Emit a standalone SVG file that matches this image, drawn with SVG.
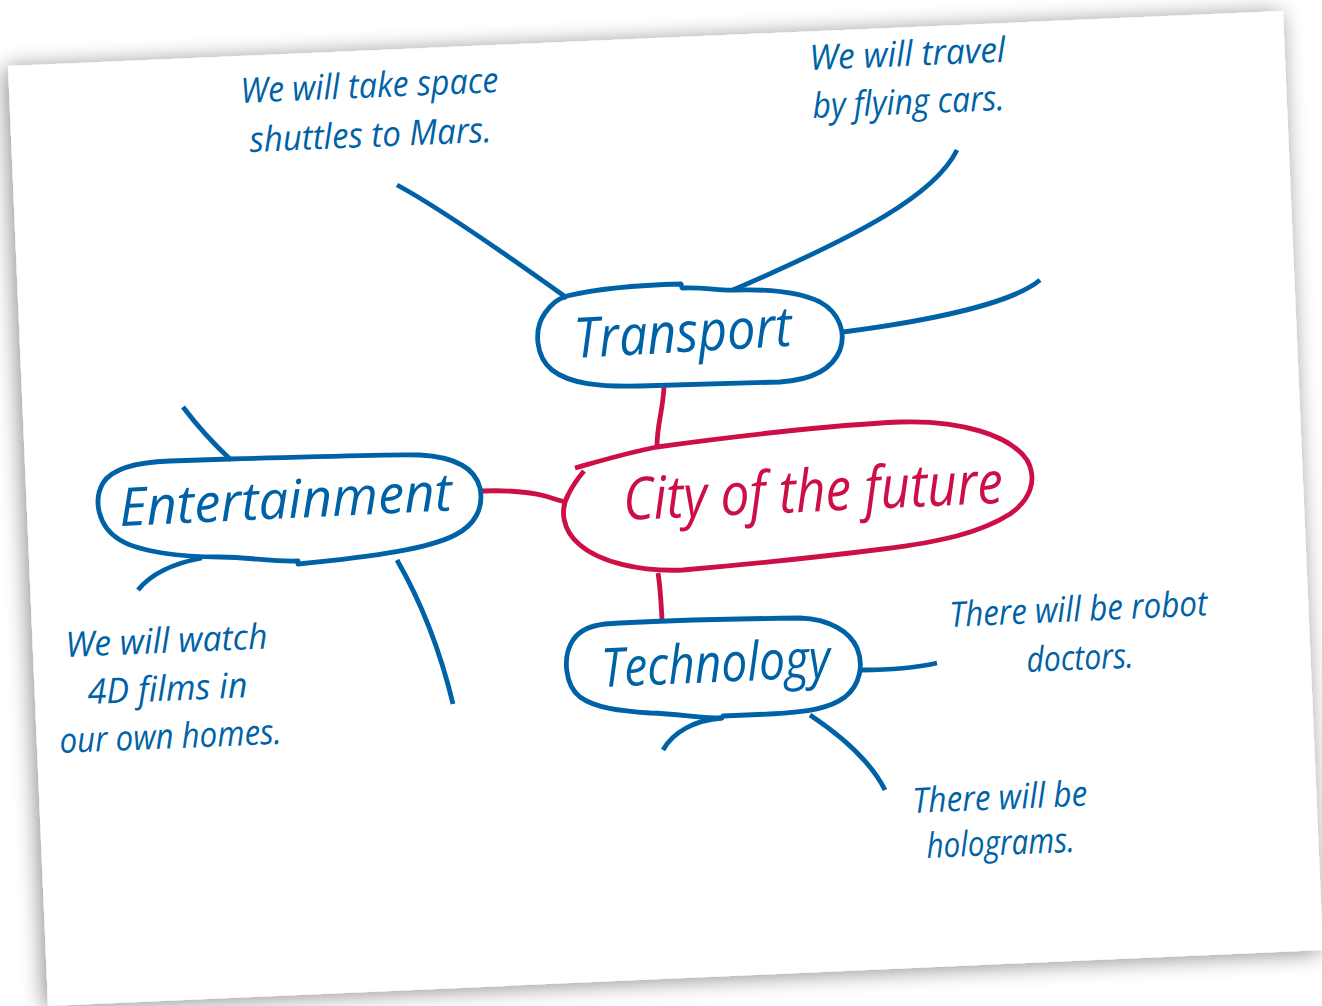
<svg xmlns="http://www.w3.org/2000/svg" width="1322" height="1006" viewBox="0 0 1322 1006">
<defs>
<filter id="shadow" x="-10%" y="-10%" width="120%" height="120%">
<feGaussianBlur in="SourceAlpha" stdDeviation="11"/>
<feOffset dx="-3" dy="2" result="b"/>
<feComponentTransfer><feFuncA type="linear" slope="0.45"/></feComponentTransfer>
<feMerge><feMergeNode/><feMergeNode in="SourceGraphic"/></feMerge>
</filter>
<style>
.b{fill:none;stroke:#0062a6;stroke-width:4.8;stroke-linejoin:round}
.r{fill:none;stroke:#cc0f46;stroke-width:4.8;stroke-linejoin:round}
.t{font-family:"Open Sans","Noto Sans",sans-serif;font-style:italic;fill:#0062a6}
.leaf{font-size:35px}
.main{font-size:56px}
.red{fill:#cc0f46}
</style>
</defs>
<rect x="0" y="0" width="1322" height="1006" fill="#ffffff"/>
<polygon id="paper" points="8,66 1283,11 1323,950 48,1006" fill="#ffffff" filter="url(#shadow)"/>

<g id="connectors">
<path class="b" d="M397,185 Q444,210 567,298"/>
<path class="b" d="M957,150 C935,195 860,235 733,290"/>
<path class="b" d="M843,332 C920,322 1010,305 1040,280"/>
<path class="r" d="M664,387 C663,410 657,425 657,446"/>
<path class="r" d="M482,491 C510,490 530,492 545,496 C555,499 560,501 566,502"/>
<path class="r" d="M658,573 C660,585 661,600 662,620"/>
<path class="b" d="M183,407 Q205,436 231,460"/>
<path class="b" d="M202,558 C170,564 150,575 138,590"/>
<path class="b" d="M397,560 C420,600 440,650 453,704"/>
<path class="b" d="M862,670 C890,670 915,668 937,663"/>
<path class="b" d="M722,718 C695,720 673,732 663,750"/>
<path class="b" d="M810,715 C840,735 870,760 885,790"/>
</g>

<g id="node-transport">
<path class="b" d="M567,296 C600,288 640,285 681,284 L682,288 C705,287 720,291 735,290 C770,289 800,292 820,302 C840,313 846,333 840,350 C832,370 810,380 780,382 L640,386 C600,387 570,384 552,370 C536,357 533,330 545,313 C552,303 558,299 567,296 Z"/>
<text class="t main" x="575" y="358" transform="rotate(-3.2 575 358)" textLength="218" lengthAdjust="spacingAndGlyphs">Transport</text>
</g>

<g id="node-entertainment">
<path class="b" d="M230,459 C320,457 390,454 420,455 C455,457 475,468 480,488 C484,508 475,525 455,535 C430,548 380,556 298,564 L298,561 C270,562 250,557 220,557 C180,557 140,552 120,540 C98,527 93,500 103,483 C113,467 140,462 170,461 Z"/>
<text class="t main" x="120" y="526" transform="rotate(-2.7 120 526)" textLength="333" lengthAdjust="spacingAndGlyphs" style="font-size:53px">Entertainment</text>
</g>

<g id="node-city">
<path class="r" d="M575,468 C600,461 630,452 657,447 C720,438 830,425 900,422 C960,420 1010,435 1027,460 C1038,480 1030,500 1010,514 C980,533 940,542 883,549 C820,557 740,565 683,570 C640,572 600,562 580,545 C562,530 560,510 568,495 C573,485 578,478 584,471"/>
<text class="t main red" x="624" y="520" transform="rotate(-2.6 624 520)" textLength="380" lengthAdjust="spacingAndGlyphs" style="font-size:59px">City of the future</text>
</g>

<g id="node-technology">
<path class="b" d="M573,640 C580,630 590,626 605,624 C650,621 720,619 800,618 C830,619 850,632 857,648 C864,665 860,685 845,697 C830,708 810,712 770,714 L723,716 L722,718 C700,718 680,714 650,713 C620,711 595,708 580,697 C565,685 562,657 573,640 Z"/>
<text class="t main" x="602" y="687" transform="rotate(-2.5 602 687)" textLength="229" lengthAdjust="spacingAndGlyphs" style="font-size:54px">Technology</text>
</g>

<g id="leaf-mars">
<text class="t leaf" x="241" y="103" transform="rotate(-2.4 241 103)" textLength="258" lengthAdjust="spacingAndGlyphs">We will take space</text>
<text class="t leaf" x="250" y="152" transform="rotate(-2.4 250 152)" textLength="242" lengthAdjust="spacingAndGlyphs">shuttles to Mars.</text>
</g>

<g id="leaf-cars">
<text class="t leaf" x="810" y="70" transform="rotate(-2.4 810 70)" textLength="196" lengthAdjust="spacingAndGlyphs">We will travel</text>
<text class="t leaf" x="813" y="118" transform="rotate(-2.4 813 118)" textLength="192" lengthAdjust="spacingAndGlyphs">by flying cars.</text>
</g>

<g id="leaf-films">
<text class="t leaf" x="66" y="657" transform="rotate(-2.4 66 657)" textLength="202" lengthAdjust="spacingAndGlyphs">We will watch</text>
<text class="t leaf" x="88" y="704" transform="rotate(-2.4 88 704)" textLength="160" lengthAdjust="spacingAndGlyphs">4D films in</text>
<text class="t leaf" x="60" y="753" transform="rotate(-2.4 60 753)" textLength="222" lengthAdjust="spacingAndGlyphs">our own homes.</text>
</g>

<g id="leaf-doctors">
<text class="t leaf" x="950" y="627" transform="rotate(-2.6 950 627)" textLength="258" lengthAdjust="spacingAndGlyphs">There will be robot</text>
<text class="t leaf" x="1027" y="672" transform="rotate(-2.4 1027 672)" textLength="107" lengthAdjust="spacingAndGlyphs">doctors.</text>
</g>

<g id="leaf-holograms">
<text class="t leaf" x="913" y="813" transform="rotate(-2.4 913 813)" textLength="175" lengthAdjust="spacingAndGlyphs">There will be</text>
<text class="t leaf" x="927" y="858" transform="rotate(-2.4 927 858)" textLength="148" lengthAdjust="spacingAndGlyphs">holograms.</text>
</g>
</svg>
